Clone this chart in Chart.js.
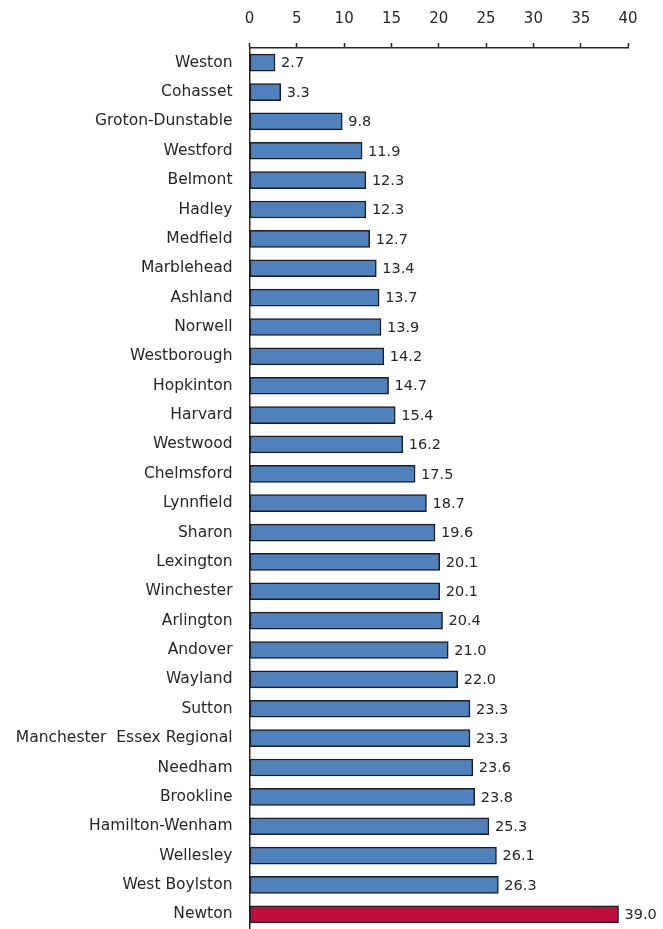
<!DOCTYPE html>
<html>
<head>
<meta charset="utf-8">
<script src="https://cdn.jsdelivr.net/npm/chart.js@4/dist/chart.umd.min.js"></script>
<style>
  html, body { margin: 0; padding: 0; background: #ffffff; }
  #wrap { width: 663px; height: 929px; }
</style>
</head>
<body>
<div id="wrap"><canvas id="c" width="663" height="929"></canvas></div>
<script>
// Districts, in the order they are listed top to bottom
const districts = [
  "Weston", "Cohasset", "Groton-Dunstable", "Westford", "Belmont", "Hadley",
  "Medfield", "Marblehead", "Ashland", "Norwell", "Westborough", "Hopkinton",
  "Harvard", "Westwood", "Chelmsford", "Lynnfield", "Sharon", "Lexington",
  "Winchester", "Arlington", "Andover", "Wayland", "Sutton",
  "Manchester  Essex Regional", "Needham", "Brookline", "Hamilton-Wenham",
  "Wellesley", "West Boylston", "Newton"
];

const values = [
  2.7, 3.3, 9.8, 11.9, 12.3, 12.3,
  12.7, 13.4, 13.7, 13.9, 14.2, 14.7,
  15.4, 16.2, 17.5, 18.7, 19.6, 20.1,
  20.1, 20.4, 21.0, 22.0, 23.3,
  23.3, 23.6, 23.8, 25.3,
  26.1, 26.3, 39.0
];

const axisTicks = [0, 5, 10, 15, 20, 25, 30, 35, 40];

const highlighted = "Newton";

const FONT = "'DejaVu Sans', Verdana, sans-serif";
const TEXT = "#262626";
const AXIS = "#262626";

const barColors = districts.map(d => d === highlighted ? "#C00D3C" : "#4F81BD");

// Writes each bar's value just past its end
const valueLabels = {
  id: "valueLabels",
  afterDatasetsDraw(chart) {
    const ctx = chart.ctx;
    const meta = chart.getDatasetMeta(0);
    ctx.save();
    ctx.font = "14.5px " + FONT;
    ctx.fillStyle = TEXT;
    ctx.textAlign = "left";
    ctx.textBaseline = "middle";
    meta.data.forEach((bar, i) => {
      ctx.fillText(values[i].toFixed(1), bar.x + 6, bar.y + 1);
    });
    ctx.restore();
  }
};

new Chart(document.getElementById("c"), {
  type: "bar",
  data: {
    labels: districts,
    datasets: [{
      data: values,
      backgroundColor: barColors,
      borderColor: "#1c1c24",
      borderWidth: 1.5,
      borderSkipped: false,
      barThickness: 17
    }]
  },
  options: {
    indexAxis: "y",
    responsive: false,
    animation: false,
    layout: { padding: { top: 0, right: 35, bottom: 0, left: 0 } },
    plugins: {
      legend: { display: false },
      tooltip: { enabled: false }
    },
    scales: {
      x: {
        position: "top",
        min: 0,
        max: 40,
        afterBuildTicks(scale) {
          scale.ticks = axisTicks.map(v => ({ value: v }));
        },
        afterFit(scale) { scale.height = 48; },
        grid: {
          display: true,
          drawOnChartArea: false,
          drawTicks: true,
          tickLength: 5,
          tickWidth: 1.5,
          tickColor: AXIS
        },
        border: { display: true, color: AXIS, width: 1.5 },
        ticks: {
          padding: 15,
          color: TEXT,
          font: { family: FONT, size: 15 }
        }
      },
      y: {
        // category axis runs the full height below the value axis
        afterFit(scale) {
          scale.width = 249.5;
          scale.paddingTop = 0;
          scale.paddingBottom = 0;
        },
        grid: { display: true, drawOnChartArea: false, drawTicks: false },
        border: { display: true, color: AXIS, width: 1.5 },
        ticks: {
          padding: 17,
          color: TEXT,
          autoSkip: false,
          font: { family: FONT, size: 15.5 }
        }
      }
    }
  },
  plugins: [valueLabels]
});
</script>
</body>
</html>
